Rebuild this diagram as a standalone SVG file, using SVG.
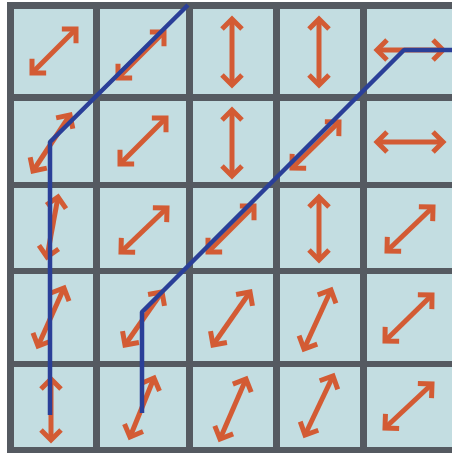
<svg xmlns="http://www.w3.org/2000/svg" width="452" height="453" viewBox="0 0 452 453">
<style>
.cell{fill:#c3dde1;}
.arr{stroke:#d35b34;stroke-width:5;fill:none;marker-start:url(#h);marker-end:url(#h);}
.path{stroke:#2a3f98;stroke-width:4.5;fill:none;stroke-linejoin:bevel;}
</style>
<defs>
<marker id="h" markerUnits="userSpaceOnUse" markerWidth="30" markerHeight="30" viewBox="-15 -15 30 30" refX="0" refY="0" orient="auto-start-reverse" overflow="visible">
<path d="M-10,-10 L0,0 L-10,10" fill="none" stroke="#d35b34" stroke-width="5"/>
</marker>
</defs>
<rect x="0" y="0" width="452" height="453" fill="#ffffff"/>
<rect x="7" y="2" width="450" height="455" fill="#555a61"/>
<g id="r0c0"><rect class="cell" x="14" y="9" width="79" height="85"/><line class="arr" x1="32" y1="73" x2="76" y2="29"/></g>
<g id="r0c1"><rect class="cell" x="100" y="9" width="86" height="85"/><line class="arr" x1="118" y1="78" x2="164" y2="32"/></g>
<g id="r0c2"><rect class="cell" x="193" y="9" width="80" height="85"/><line class="arr" x1="232" y1="19" x2="232" y2="85"/></g>
<g id="r0c3"><rect class="cell" x="280" y="9" width="80" height="85"/><line class="arr" x1="319" y1="19" x2="319" y2="85"/></g>
<g id="r0c4"><rect class="cell" x="367" y="9" width="90" height="85"/><line class="arr" x1="377" y1="50" x2="443" y2="50"/></g>
<g id="r1c0"><rect class="cell" x="14" y="101" width="79" height="81"/><line class="arr" x1="33" y1="171" x2="70" y2="115"/></g>
<g id="r1c1"><rect class="cell" x="100" y="101" width="86" height="81"/><line class="arr" x1="120" y1="164" x2="166" y2="118"/></g>
<g id="r1c2"><rect class="cell" x="193" y="101" width="80" height="81"/><line class="arr" x1="232" y1="110" x2="232" y2="176"/></g>
<g id="r1c3"><rect class="cell" x="280" y="101" width="80" height="81"/><line class="arr" x1="292" y1="168" x2="339" y2="122"/></g>
<g id="r1c4"><rect class="cell" x="367" y="101" width="90" height="81"/><line class="arr" x1="377" y1="142" x2="443" y2="142"/></g>
<g id="r2c0"><rect class="cell" x="14" y="188" width="79" height="80"/><line class="arr" x1="47" y1="257" x2="58" y2="197"/></g>
<g id="r2c1"><rect class="cell" x="100" y="188" width="86" height="80"/><line class="arr" x1="121" y1="252" x2="167" y2="208"/></g>
<g id="r2c2"><rect class="cell" x="193" y="188" width="80" height="80"/><line class="arr" x1="208" y1="252" x2="254" y2="206"/></g>
<g id="r2c3"><rect class="cell" x="280" y="188" width="80" height="80"/><line class="arr" x1="319" y1="197" x2="319" y2="260"/></g>
<g id="r2c4"><rect class="cell" x="367" y="188" width="90" height="80"/><line class="arr" x1="387" y1="251" x2="433" y2="207"/></g>
<g id="r3c0"><rect class="cell" x="14" y="274" width="79" height="87"/><line class="arr" x1="38" y1="346" x2="64" y2="288"/></g>
<g id="r3c1"><rect class="cell" x="100" y="274" width="86" height="87"/><line class="arr" x1="125" y1="345" x2="162" y2="292"/></g>
<g id="r3c2"><rect class="cell" x="193" y="274" width="80" height="87"/><line class="arr" x1="213" y1="345" x2="250" y2="292"/></g>
<g id="r3c3"><rect class="cell" x="280" y="274" width="80" height="87"/><line class="arr" x1="304" y1="349" x2="331" y2="290"/></g>
<g id="r3c4"><rect class="cell" x="367" y="274" width="90" height="87"/><line class="arr" x1="385" y1="341" x2="432" y2="295"/></g>
<g id="r4c0"><rect class="cell" x="14" y="367" width="79" height="80"/><line class="arr" x1="51" y1="379" x2="51" y2="440"/></g>
<g id="r4c1"><rect class="cell" x="100" y="367" width="86" height="80"/><line class="arr" x1="130" y1="437" x2="154" y2="378"/></g>
<g id="r4c2"><rect class="cell" x="193" y="367" width="80" height="80"/><line class="arr" x1="220" y1="439" x2="246" y2="379"/></g>
<g id="r4c3"><rect class="cell" x="280" y="367" width="80" height="80"/><line class="arr" x1="305" y1="435" x2="333" y2="376"/></g>
<g id="r4c4"><rect class="cell" x="367" y="367" width="90" height="80"/><line class="arr" x1="385" y1="428" x2="432" y2="384"/></g>
<g id="connectors">
<polyline class="path" points="188,5 50,142 50,415"/>
<polyline class="path" points="452,50 404,50 142,312 142,413"/>
</g>
</svg>
